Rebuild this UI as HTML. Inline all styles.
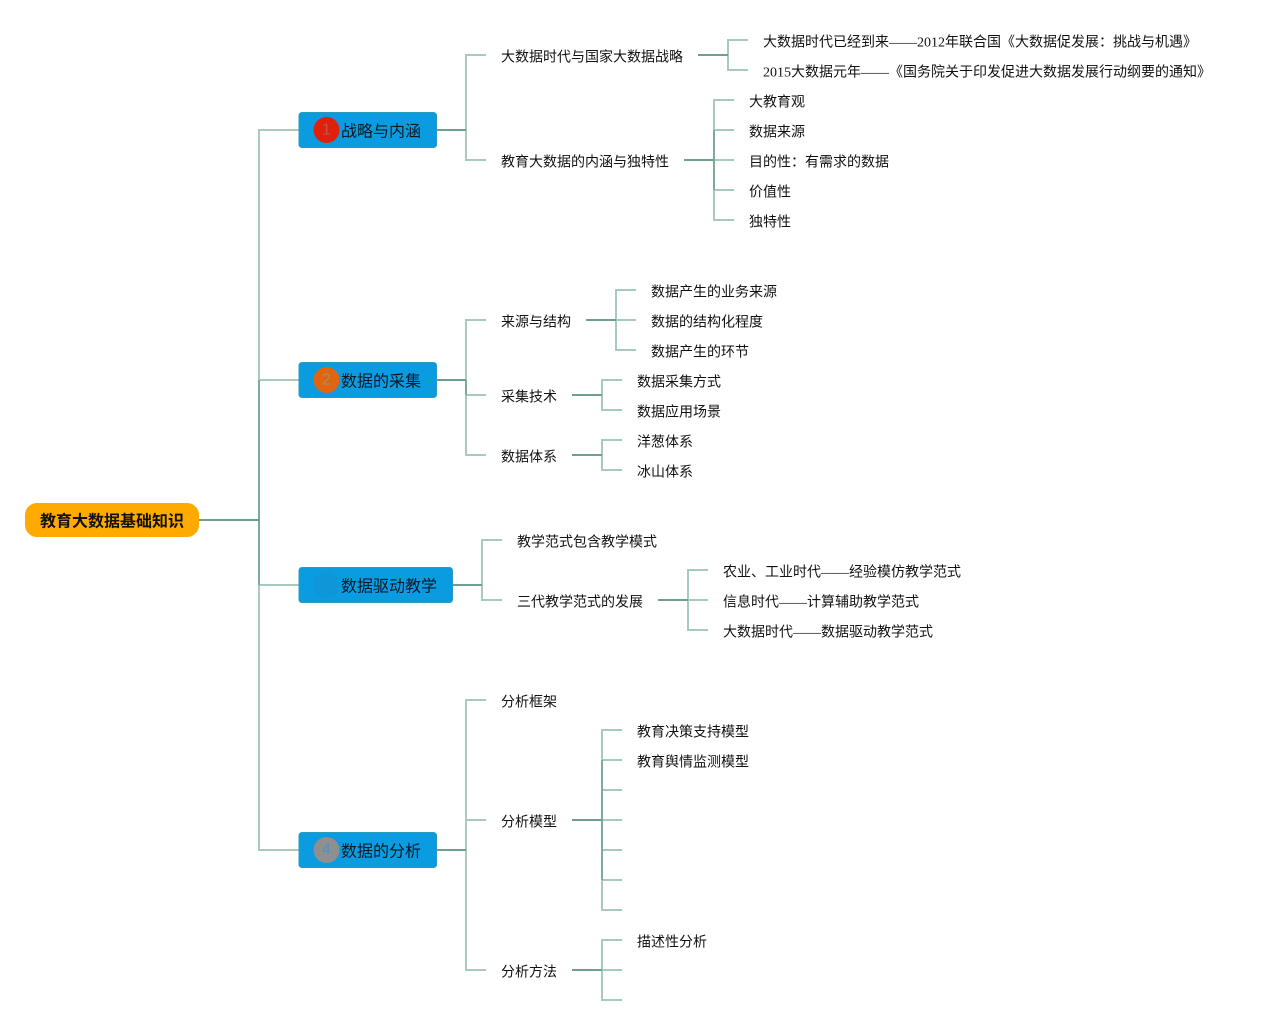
<!DOCTYPE html>
<html><head><meta charset="utf-8"><style>
html,body{margin:0;padding:0;background:#fff}
svg{display:block}
text{font-family:"Liberation Serif","Noto Sans CJK SC",sans-serif;font-size:14px;fill:#111;dominant-baseline:central;transform:translateY(2px)}
.t{font-size:16px;fill:#0b1a24;transform:translateY(1px)}
.r{font-size:16px;font-weight:bold;fill:#111}
.n{font-family:"Liberation Sans",sans-serif;font-size:16px;text-anchor:middle;transform:translateY(0)}
.l{fill:none;stroke:#a8c9c0;stroke-width:2}
.d{fill:none;stroke:#6f9f92;stroke-width:2}
.v{fill:none;stroke:#7eaa9e;stroke-width:2}
.b{fill:#0a9be0;stroke:#2a9cb8;stroke-width:1}
</style></head><body>
<svg width="1271" height="1025" viewBox="0 0 1271 1025" xmlns="http://www.w3.org/2000/svg">
<rect width="1271" height="1025" fill="#fff"/>
<g class="l">
<path class="l" d="M299 130H259V850H299M259 380H299M259 585H299"/>
<path class="l" d="M486 55H466V160H486M437 130H466"/>
<path class="l" d="M748 40H728V70H748"/>
<path class="l" d="M734 100H714V220H734M714 130H734M714 160H734M714 190H734"/>
<path class="l" d="M486 320H466V455H486M466 395H486"/>
<path class="l" d="M636 290H616V350H636M616 320H636"/>
<path class="l" d="M622 380H602V410H622"/>
<path class="l" d="M622 440H602V470H622"/>
<path class="l" d="M502 540H482V600H502"/>
<path class="l" d="M708 570H688V630H708M688 600H708"/>
<path class="l" d="M486 700H466V970H486M466 820H486"/>
<path class="l" d="M622 730H602V910H622M602 760H622M602 790H622M602 820H622M602 850H622M602 880H622"/>
<path class="l" d="M622 940H602V1000H622M602 970H622"/>
</g>
<g>
<path class="v" d="M259 380V585"/>
<path class="v" d="M714 130V190"/>
<path class="v" d="M466 380V395"/>
<path class="v" d="M602 760V880"/>
<path class="d" d="M199 520H259"/>
<path class="d" d="M437 130H466"/>
<path class="d" d="M698 55H728"/>
<path class="d" d="M684 160H714"/>
<path class="d" d="M437 380H466"/>
<path class="d" d="M586 320H616"/>
<path class="d" d="M572 395H602"/>
<path class="d" d="M572 455H602"/>
<path class="d" d="M453 585H482"/>
<path class="d" d="M658 600H688"/>
<path class="d" d="M437 850H466"/>
<path class="d" d="M572 820H602"/>
<path class="d" d="M572 970H602"/>
</g>
<rect x="25" y="503" width="174" height="34" rx="12" fill="#ffaa00"/>
<text class="r" x="40" y="520">教育大数据基础知识</text>

<rect class="b" x="299" y="112.500" width="137.500" height="35" rx="3"/>
<circle cx="326.500" cy="130" r="13" fill="#e0200a"/>
<text class="n" x="326.500" y="130" style="fill:#b8555a">1</text>
<text class="t" x="341" y="131">战略与内涵</text>

<rect class="b" x="299" y="362.500" width="137.500" height="35" rx="3"/>
<circle cx="326.500" cy="380" r="13" fill="#e06510"/>
<text class="n" x="326.500" y="380" style="fill:#b08a60">2</text>
<text class="t" x="341" y="381">数据的采集</text>

<rect class="b" x="299" y="567.500" width="153.500" height="35" rx="3"/>
<circle cx="326.500" cy="585" r="13" fill="#0f96d8"/>
<text class="t" x="341" y="586">数据驱动教学</text>

<rect class="b" x="299" y="832.500" width="137.500" height="35" rx="3"/>
<circle cx="326.500" cy="850" r="13" fill="#8f8f8f"/>
<text class="n" x="326.500" y="850" style="fill:#4f93c0">4</text>
<text class="t" x="341" y="851">数据的分析</text>

<text x="501" y="56">大数据时代与国家大数据战略</text>
<text x="763" y="41">大数据时代已经到来——2012年联合国《大数据促发展：挑战与机遇》</text>
<text x="763" y="71">2015大数据元年——《国务院关于印发促进大数据发展行动纲要的通知》</text>
<text x="501" y="161">教育大数据的内涵与独特性</text>
<text x="749" y="101">大教育观</text>
<text x="749" y="131">数据来源</text>
<text x="749" y="161">目的性：有需求的数据</text>
<text x="749" y="191">价值性</text>
<text x="749" y="221">独特性</text>

<text x="501" y="321">来源与结构</text>
<text x="651" y="291">数据产生的业务来源</text>
<text x="651" y="321">数据的结构化程度</text>
<text x="651" y="351">数据产生的环节</text>
<text x="501" y="396">采集技术</text>
<text x="637" y="381">数据采集方式</text>
<text x="637" y="411">数据应用场景</text>
<text x="501" y="456">数据体系</text>
<text x="637" y="441">洋葱体系</text>
<text x="637" y="471">冰山体系</text>

<text x="517" y="541">教学范式包含教学模式</text>
<text x="517" y="601">三代教学范式的发展</text>
<text x="723" y="571">农业、工业时代——经验模仿教学范式</text>
<text x="723" y="601">信息时代——计算辅助教学范式</text>
<text x="723" y="631">大数据时代——数据驱动教学范式</text>

<text x="501" y="701">分析框架</text>
<text x="501" y="821">分析模型</text>
<text x="637" y="731">教育决策支持模型</text>
<text x="637" y="761">教育舆情监测模型</text>
<text x="501" y="971">分析方法</text>
<text x="637" y="941">描述性分析</text>
</svg>
</body></html>
